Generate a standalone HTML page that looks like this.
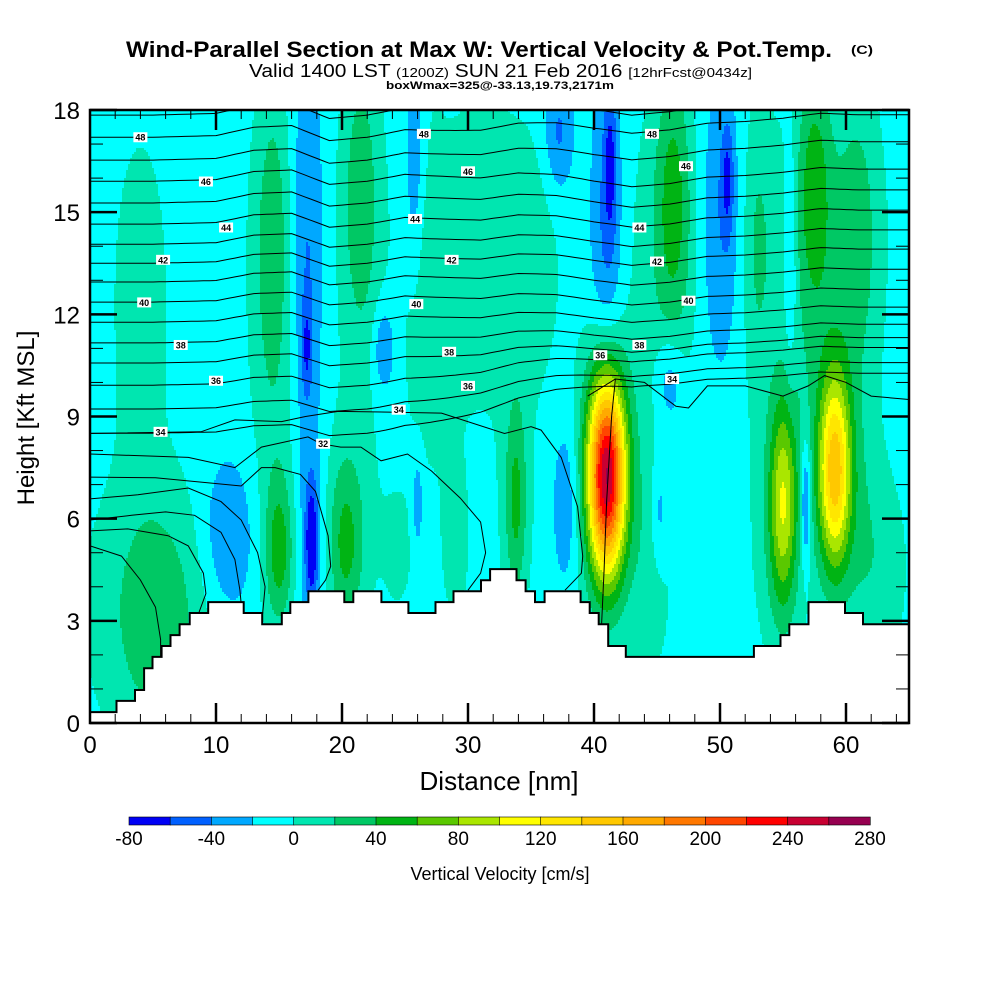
<!DOCTYPE html>
<html><head><meta charset="utf-8"><title>Wind-Parallel Section</title>
<style>html,body{margin:0;padding:0;background:#fff}svg{display:block;font-family:"Liberation Sans",sans-serif}</style>
</head><body>
<svg id="chart" width="1000" height="1000" viewBox="0 0 1000 1000" xmlns="http://www.w3.org/2000/svg">
<rect width="1000" height="1000" fill="#fff"/>
<text x="126" y="57" font-size="22" font-weight="bold" textLength="706" lengthAdjust="spacingAndGlyphs">Wind-Parallel Section at Max W: Vertical Velocity &amp; Pot.Temp.</text>
<text x="851" y="54" font-size="12" font-weight="bold" textLength="22" lengthAdjust="spacingAndGlyphs">(C)</text>
<text x="249" y="77" font-size="18" textLength="503" lengthAdjust="spacingAndGlyphs">Valid 1400 LST <tspan font-size="13">(1200Z)</tspan> SUN 21 Feb 2016 <tspan font-size="13">[12hrFcst@0434z]</tspan></text>
<text x="386" y="89" font-size="11" font-weight="bold" textLength="228" lengthAdjust="spacingAndGlyphs">boxWmax=325@-33.13,19.73,2171m</text>
<defs><clipPath id="plotclip"><rect x="90" y="110" width="819" height="613"/></clipPath></defs>
<g id="field" shape-rendering="crispEdges"></g>
<g id="contours" clip-path="url(#plotclip)" fill="none" stroke="#000" stroke-width="1"></g>
<g id="terrain"></g>
<g id="clabels"></g>
<g id="axes"></g>
<text x="499" y="790" font-size="26" text-anchor="middle">Distance [nm]</text>
<text x="0" y="0" font-size="24" text-anchor="middle" transform="translate(34,418) rotate(-90)">Height [Kft MSL]</text>
<g id="colorbar"></g>
<text x="500" y="880" font-size="18" text-anchor="middle">Vertical Velocity [cm/s]</text>
</svg>
<script>
// ---- data ----
const binEdgesStart = -80;
const binStep = 20;
const binColors = ["#0000f5","#0060ff","#00a8ff","#00ffff","#00e6b0","#00c864","#00b414","#5ac800","#aae600","#ffff00","#ffe600","#ffc800","#ffaa00","#ff7800","#ff4600","#ff0000","#c80032","#960050"];
const cbLabels = [-80,-40,0,40,80,120,160,200,240,280];
const xTicks = [0,10,20,30,40,50,60];
const yTicks = [0,3,6,9,12,15,18];
const baseW = -10;
// velocity features (nm, kft, nm, kft, cm/s)
const blobX  = [4,14.5,14.5,21.5,21.5,26.5,31,35,46.3,45.5,57.5,58,61,53,53,
                17.2,17.2,25.8,37.2,41,41.3,50,50.6,46,55.6,23.3,
                5.5,4,11,15,15,17.6,17.5,20.3,20.5,26,24.5,29,33.8,33.8,37.8,41,45.2,44.5,55,54.5,56.8,59.1,61.5,41,59.1,63.5];
const blobY  = [12.5,14,13,15.5,14,13,14,13.5,15.5,13.5,15.8,13.5,14.5,14,14,
                14,11,16,17.3,14,16.5,14.5,16,10,13.5,11,
                3,3.5,5.5,5,6,5.3,5.5,5.2,6,6.5,5,5,6.5,6.5,6.5,7.3,6.2,4.5,6.5,5.5,6.5,7.4,5,7.3,7.4,4.5];
const blobSX = [1.6,1.0,1.8,1.0,1.8,1.2,2.5,1.5,1.0,2,0.9,2.5,1.2,0.8,8,
                0.9,0.3,0.6,0.8,0.9,0.35,1.2,0.35,0.8,0.35,0.6,
                2.5,4,1.5,0.8,1.5,0.35,0.9,1.0,2,0.3,1.0,1.2,0.6,1.2,0.8,1.05,0.5,1.3,0.8,1.8,0.3,0.9,1.2,2.2,1.8,1.2];
const blobSY = [3.5,3.5,4,3,4,3.5,3.5,2.5,2.8,4,2.5,4.5,3,3,3,
                4,1,2.5,1.2,3.5,1.5,3,1.2,1,2.5,0.9,
                2.5,3,1.6,1.5,2.5,1.2,2.5,1.8,2.5,1,1.5,2.5,2,3,1.8,2.1,1.2,2.5,2.2,3,1.3,2.0,2.5,3,3,2];
const blobAmp= [22,35,12,35,12,25,22,20,45,15,45,18,30,25,8,
                -35,-35,-35,-35,-38,-40,-35,-40,-35,-30,-35,
                32,16,-32,50,13,-60,-25,45,13,-30,13,13,45,11,-30,255,-30,18,95,16,-60,140,20,22,20,16];
// terrain steps (start nm, height kft)
const terrX = [0,2.10,3.57,4.29,4.96,5.68,6.39,7.11,7.91,9.38,12.2,13.67,15.22,15.9,17.33,20.18,20.9,23.13,25.27,27.42,28.85,31.03,31.75,33.85,34.57,35.32,36.08,38.94,39.66,40.37,41.13,42.52,52.69,54.8,55.5,57.02,59.92,61.35];
const terrH = [0.32,0.65,0.97,1.61,1.94,2.26,2.58,2.9,3.23,3.55,3.23,2.9,3.23,3.55,3.87,3.55,3.87,3.55,3.23,3.55,3.87,4.19,4.52,4.19,3.87,3.55,3.87,3.55,3.23,2.9,2.26,1.94,2.26,2.58,2.9,3.55,3.23,2.9];
// upper theta contours
const thetaLevels = [49,48,47,46,45,44,43,42,41,40,39,38,37,36,35,34];
const thetaLeft   = [17.85,17.2,16.53,15.91,15.27,14.65,14.06,13.5,12.95,12.36,11.77,11.16,10.57,9.92,9.22,8.51];
const thetaRight  = [18.3,17.76,16.97,16.17,15.56,14.97,14.39,13.83,13.24,12.65,12.13,11.63,11.24,10.95,10.51,10.2];
const waveX = [0,5,10,13,16,19,22,25,28,31,34,37,40,43,46,49,52,55,58,61,65];
const waveY = [0,0,0.05,0.3,0.35,-0.1,0,0.2,0.1,0,0.1,0,-0.25,-0.45,-0.35,-0.15,-0.1,0,0.15,0.1,0.1];
// lower theta contours (nm,kft pairs)
const lowC1 = [[0,5.2],[2.5,4.9],[4.0,4.2],[5.2,3.4],[5.6,2.45],[5.6,1.9]];
const lowC2 = [[0,5.64],[3.0,5.7],[6.2,5.5],[7.8,5.2],[9.0,4.4],[9.2,3.8],[8.6,3.2]];
const lowC3 = [[0,5.96],[3.3,6.1],[6.0,6.2],[8.3,6.1],[10.4,5.6],[11.5,4.8],[11.9,3.9],[12,3.5]];
const lowC4 = [[0,6.58],[3.8,6.7],[7.8,6.9],[10.4,6.5],[12,5.96],[13.3,5.0],[13.9,4.0],[13.7,3.2]];
const lowC5 = [[0,7.22],[5.2,7.2],[12,6.96],[13.6,7.5],[14.7,7.5],[16.7,7.3],[17.9,6.8],[18.9,5.5],[19.1,4.6],[18.7,4.2],[18.1,3.9]];
const lowC6 = [[0,7.9],[7.8,7.8],[11.5,7.5],[13.6,8.1],[17.3,8.4],[18.3,8.2],[19.9,8.1],[21.5,8.1],[23.1,7.7],[25.2,7.9],[27.1,7.4],[29.4,6.6],[31.0,5.9],[31.4,5.0],[31.0,4.4],[30,3.9]];
const lowC7 = [[0,8.5],[8.8,8.55],[11.5,8.9],[15.2,8.85],[17.1,9.0],[19.7,9.15],[23.7,9.13],[27.9,9.1],[32.9,8.5],[35,8.7],[35.8,8.6],[37.4,7.8],[38.7,6.35],[39.1,4.9],[39,4.4],[37.7,3.9]];
const lowC8 = [[41.7,10.1],[41.4,9.0],[41.0,6.5],[40.8,4.5],[40.6,2.9]];
const lowC9 = [[39.5,9.6],[41.7,10.1],[44,10.0],[46.5,9.3],[47.5,9.25],[49,9.9],[52,9.9],[55,9.6],[57,9.9],[58.3,10.2],[60,10.0],[62,9.6],[65,9.5]];
const lowContours = [lowC1,lowC2,lowC3,lowC4,lowC5,lowC6,lowC7,lowC8,lowC9];
const labelText = ["48","46","44","42","40","38","36","34","32","48","46","44","42","40","38","36","34","48","46","44","42","40","38","36","34"];
const labelX    = [4,9.2,10.8,5.8,4.3,7.2,10,5.6,18.5,26.5,30,25.8,28.7,25.9,28.5,30,24.5,44.6,47.3,43.6,45,47.5,43.6,40.5,46.2];
const labelY    = [17.2,15.9,14.55,13.6,12.35,11.1,10.05,8.55,8.2,17.3,16.2,14.8,13.6,12.3,10.9,9.9,9.2,17.3,16.35,14.55,13.55,12.4,11.1,10.8,10.1];

// ---- helpers ----
const NS="http://www.w3.org/2000/svg";
const X0=90,X1=909,Y0=723,Y1=110;
function sx(n){return X0+n*(X1-X0)/65;}
function sy(k){return Y0-k*(Y0-Y1)/18;}
function nx(px){return (px-X0)*65/(X1-X0);}
function ky(py){return (Y0-py)*18/(Y0-Y1);}
function el(tag,parent){const e=document.createElementNS(NS,tag);parent.appendChild(e);return e;}
function field(x,y){let v=baseW;for(let i=0;i<blobX.length;i++){const dx=(x-blobX[i])/blobSX[i],dy=(y-blobY[i])/blobSY[i];const d=0.5*(dx*dx+dy*dy);if(d<12)v+=blobAmp[i]*Math.exp(-d);}return v;}
function bin(v){let b=Math.floor((v-binEdgesStart)/binStep);return Math.max(0,Math.min(binColors.length-1,b));}

// ---- field ----
const fg=document.getElementById('field');
const cell=2;
function addRun(x0,x1,py,h,b){
  const r=el('rect',fg);
  
  
  r.setAttribute('x',x0);r.setAttribute('y',py);r.setAttribute('width',x1-x0);r.setAttribute('height',h);r.setAttribute('fill',binColors[b]);
}
for(let py=Y1;py<Y0;py+=cell){
  let prev=null,start=X0;
  const h=Math.min(cell,Y0-py);
  let px=X0;
  for(;px<X1;px+=cell){
    const b=bin(field(nx(px+cell/2),ky(py+cell/2)));
    if(b!==prev){
      if(prev!==null) addRun(start,px,py,h,prev);
      prev=b;start=px;
    }
  }
  addRun(start,X1,py,h,prev);
}

// ---- contours ----
const cg=document.getElementById('contours');
function waveAt(x){for(let i=0;i<waveX.length-1;i++){if(x<=waveX[i+1]){const t=(x-waveX[i])/(waveX[i+1]-waveX[i]);return waveY[i]+t*(waveY[i+1]-waveY[i]);}}return waveY[waveY.length-1];}
function blend(x){let t=(x-22)/22;t=Math.max(0,Math.min(1,t));return t*t*(3-2*t);}
for(let i=0;i<thetaLevels.length;i++){
  let d='';
  for(let x=0;x<=65.01;x+=0.5){const y=thetaLeft[i]+(thetaRight[i]-thetaLeft[i])*blend(x)+waveAt(x)*(1-0.3*i/thetaLevels.length);d+=(x===0?'M':'L')+sx(x).toFixed(1)+','+sy(y).toFixed(1);}
  const p=el('path',cg);
  
  
  p.setAttribute('d',d);
}
lowContours.forEach(function(c){
  const p=el('path',cg);
  
  
  p.setAttribute('d',c.map(function(q,j){return (j?'L':'M')+sx(q[0]).toFixed(1)+','+sy(q[1]).toFixed(1);}).join(''));
});

// ---- terrain ----
const tg=document.getElementById('terrain');
let pts=[[sx(0),sy(0)]];
for(let i=0;i<terrX.length;i++){const xe=(i+1<terrX.length)?terrX[i+1]:65;pts.push([sx(terrX[i]),sy(terrH[i])]);pts.push([sx(xe),sy(terrH[i])]);}
pts.push([sx(65),sy(0)]);
const poly=el('polygon',tg);


poly.setAttribute('points',pts.map(function(p){return p[0].toFixed(1)+','+p[1].toFixed(1);}).join(' '));
poly.setAttribute('fill','#fff');
const edge=el('polyline',tg);


edge.setAttribute('points',pts.slice(1,-1).map(function(p){return p[0].toFixed(1)+','+p[1].toFixed(1);}).join(' '));
edge.setAttribute('fill','none');edge.setAttribute('stroke','#000');edge.setAttribute('stroke-width','2');

// ---- contour labels ----
const lg=document.getElementById('clabels');
for(let i=0;i<labelText.length;i++){
  const cx=sx(labelX[i]),cy=sy(labelY[i]);
  const r=el('rect',lg);
  
  
  r.setAttribute('x',cx-7);r.setAttribute('y',cy-5);r.setAttribute('width',14);r.setAttribute('height',10);r.setAttribute('fill','#fff');
  const t=el('text',lg);
  
  
  t.setAttribute('x',cx);t.setAttribute('y',cy+3.5);t.setAttribute('font-size','9');t.setAttribute('font-weight','bold');t.setAttribute('text-anchor','middle');
  t.textContent=labelText[i];
}

// ---- axes ----
const ag=document.getElementById('axes');
function line(x1,y1,x2,y2,w,name){const l=el('line',ag);l.setAttribute('x1',x1);l.setAttribute('y1',y1);l.setAttribute('x2',x2);l.setAttribute('y2',y2);l.setAttribute('stroke','#000');l.setAttribute('stroke-width',w);return l;}
const frame=el('rect',ag);


frame.setAttribute('x',X0);frame.setAttribute('y',Y1);frame.setAttribute('width',X1-X0);frame.setAttribute('height',Y0-Y1);frame.setAttribute('fill','none');frame.setAttribute('stroke','#000');frame.setAttribute('stroke-width','2.5');
for(let n=0;n<=65;n+=2){const x=sx(n);const maj=(n%10===0);const L=maj?20:9;line(x,Y0,x,Y0-L,maj?2:1,'x-tick');line(x,Y1,x,Y1+L,maj?2:1,'x-tick');}
for(let n=10;n<=60;n+=10){const x=sx(n);line(x,Y0,x,Y0-20,2.5,'x-tick-major');line(x,Y1,x,Y1+20,2.5,'x-tick-major');}
for(let k=0;k<=18;k++){const y=sy(k);const maj=(k%3===0);const L=maj?27:13;line(X0,y,X0+L,y,maj?2.5:1,'y-tick');line(X1,y,X1-L,y,maj?2.5:1,'y-tick');}
xTicks.forEach(function(v){const t=el('text',ag);
  
  
  t.setAttribute('x',sx(v));t.setAttribute('y',753);t.setAttribute('font-size','24');t.setAttribute('text-anchor','middle');t.textContent=v;});
yTicks.forEach(function(v){const t=el('text',ag);
  
  
  t.setAttribute('x',80);t.setAttribute('y',sy(v)+9);t.setAttribute('font-size','24');t.setAttribute('text-anchor','end');t.textContent=v;});

// ---- colorbar ----
const cb=document.getElementById('colorbar');
const cbX0=129,cbX1=870,cbY=817,cbH=8;
const cw=(cbX1-cbX0)/binColors.length;
binColors.forEach(function(c,i){const r=el('rect',cb);
  
  
  r.setAttribute('x',cbX0+i*cw);r.setAttribute('y',cbY);r.setAttribute('width',cw+0.3);r.setAttribute('height',cbH);r.setAttribute('fill',c);r.setAttribute('stroke','#000');r.setAttribute('stroke-width','0.6');});
cbLabels.forEach(function(v){const t=el('text',cb);
  
  
  t.setAttribute('x',cbX0+(v-binEdgesStart)/binStep*cw);t.setAttribute('y',845);t.setAttribute('font-size','19');t.setAttribute('text-anchor','middle');t.textContent=v;});
</script>
</body></html>
